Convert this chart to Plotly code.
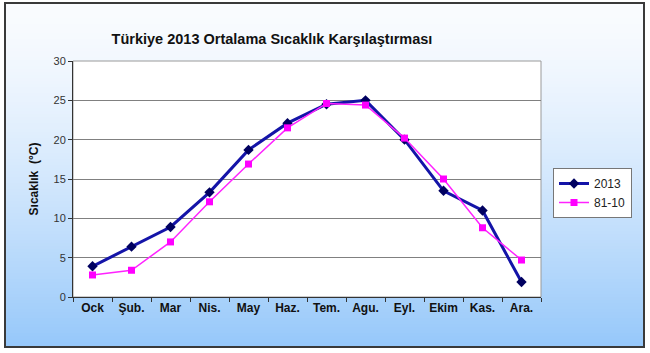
import plotly.graph_objects as go

months = ["Ock", "Şub.", "Mar", "Nis.", "May", "Haz.", "Tem.", "Agu.", "Eyl.", "Ekim", "Kas.", "Ara."]
t2013 = [3.9, 6.4, 8.9, 13.3, 18.7, 22.1, 24.5, 25.0, 20.0, 13.5, 11.0, 1.9]
t8110 = [2.8, 3.4, 7.0, 12.1, 16.9, 21.5, 24.6, 24.4, 20.2, 15.0, 8.8, 4.7]
y_ticks = [0, 5, 10, 15, 20, 25, 30]

W, H = 650, 353
L, R, T, B = 73, 541, 61, 297
pw, ph = R - L, B - T

def px2x(p):
    return (p - L) / pw

def py2y(p):
    return (B - p) / ph

shapes = []
top_c = (250, 252, 255)
bot_c = (150, 200, 250)
y0, y1 = 3, 347
step = 3
n = (y1 - y0) // step + 1
for i in range(n):
    a = y0 + i * step
    b = min(a + step + 1, y1)
    f = (i / (n - 1)) ** 1.4
    c = tuple(int(top_c[k] + (bot_c[k] - top_c[k]) * f) for k in range(3))
    shapes.append(dict(type="rect", xref="paper", yref="paper", layer="below",
                       x0=px2x(5), x1=px2x(644), y0=py2y(b), y1=py2y(a),
                       fillcolor="rgb(%d,%d,%d)" % c, line=dict(width=0)))
# plot area white
shapes.append(dict(type="rect", xref="paper", yref="paper", layer="below",
                   x0=0, x1=1, y0=0, y1=1, fillcolor="white", line=dict(color="#9a9a9a", width=1)))
# outer frame
shapes.append(dict(type="rect", xref="paper", yref="paper", layer="above",
                   x0=px2x(5), x1=px2x(644), y0=py2y(347), y1=py2y(3),
                   fillcolor="rgba(0,0,0,0)", line=dict(color="#3a3a3a", width=2)))

fig = go.Figure()
fig.add_trace(go.Scatter(x=months, y=t2013, name="2013", mode="lines+markers",
                         line=dict(color="#1414a8", width=3),
                         marker=dict(symbol="diamond", size=8, color="#000060")))
fig.add_trace(go.Scatter(x=months, y=t8110, name="81-10", mode="lines+markers",
                         line=dict(color="#ff22ff", width=1.5),
                         marker=dict(symbol="square", size=7, color="#ff00ff")))

fig.update_layout(
    width=W, height=H,
    margin=dict(l=L, r=W - R, t=T, b=H - B),
    paper_bgcolor="white", plot_bgcolor="white",
    shapes=shapes,
    font=dict(family="Liberation Sans, Arial, sans-serif", color="#222"),
    title=dict(text="<b>Türkiye 2013 Ortalama Sıcaklık Karşılaştırması</b>",
               x=px2x(272), xref="paper", xanchor="center",
               y=1 - 39 / H, yanchor="middle", yref="container",
               font=dict(size=14.5, color="#111")),
    showlegend=True,
    legend=dict(x=px2x(553), y=py2y(168), xanchor="left", yanchor="top",
                bgcolor="white", bordercolor="#777", borderwidth=1,
                font=dict(size=12, color="#222"), tracegroupgap=6),
    xaxis=dict(type="category", tickson="boundaries", ticks="outside", ticklen=4,
               tickcolor="#333", showline=True, linecolor="#333", linewidth=1,
               showgrid=False, tickfont=dict(size=12, color="#111", family="Liberation Sans, Arial"),
               tickprefix="<b>", ticksuffix="</b>", range=[-0.5, 11.5]),
    yaxis=dict(range=[0, 30], tickvals=y_ticks, ticks="outside", ticklen=4,
               tickcolor="#333", showline=True, linecolor="#333", linewidth=1,
               showgrid=True, gridcolor="#808080", gridwidth=1,
               tickfont=dict(size=11, color="#333"),
               title=dict(text="<b>Sıcaklık  (°C)</b>", font=dict(size=12, color="#111"), standoff=12)),
)

fig.write_html("out.html")
